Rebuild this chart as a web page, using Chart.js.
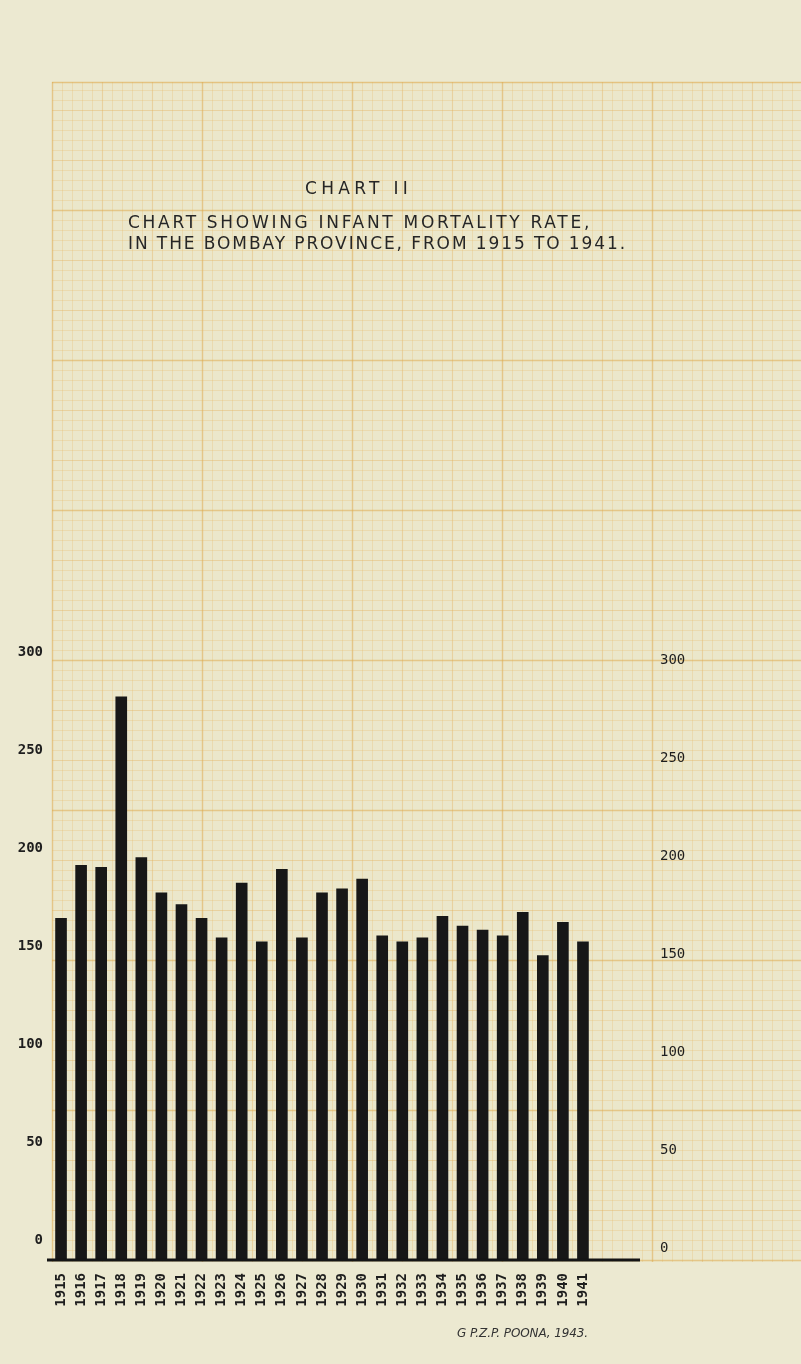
<!DOCTYPE html>
<html>
<head>
<meta charset="utf-8">
<script src="https://cdn.jsdelivr.net/npm/chart.js@4.4.1/dist/chart.umd.min.js"></script>
<style>
  html, body { margin: 0; padding: 0; background: #ece9d1; }
  #wrap { position: relative; width: 801px; height: 1364px; overflow: hidden; }
  #chart { position: absolute; left: 0; top: 0; }
  .txt { position: absolute; white-space: nowrap; color: #262626; line-height: 1;
         font-family: 'DejaVu Sans', sans-serif; font-size: 17px; }
  .credit { font-style: italic; font-size: 12px; color: #333; }
</style>
</head>
<body>
<div id="wrap">
  <canvas id="chart" width="801" height="1364"></canvas>
  <div class="txt" style="left:305px; top:180px;" data-w="107">CHART II</div>
  <div class="txt" style="left:128px; top:214px;" data-w="464">CHART SHOWING INFANT MORTALITY RATE,</div>
  <div class="txt" style="left:128px; top:235px;" data-w="499">IN THE BOMBAY PROVINCE, FROM 1915 TO 1941.</div>
  <div class="txt credit" style="left:457px; top:1327px;" data-w="131">G P.Z.P. POONA, 1943.</div>
</div>
<script>
// --- Data ---
const years = ['1915', '1916', '1917', '1918', '1919', '1920', '1921', '1922', '1923',
               '1924', '1925', '1926', '1927', '1928', '1929', '1930', '1931', '1932',
               '1933', '1934', '1935', '1936', '1937', '1938', '1939', '1940', '1941'];
// infant mortality rate
const mortalityRates = [174, 201, 200, 287, 205, 187, 181, 174, 164,
                        192, 162, 199, 164, 187, 189, 194, 165, 162,
                        164, 175, 170, 168, 165, 177, 155, 172, 162];
const yMin = 0;
const yMax = 300;
const yStep = 50;

// stretch the lettering to the widths of the original
document.querySelectorAll('.txt').forEach(el => {
    const target = +el.dataset.w;
    const natural = el.getBoundingClientRect().width;
    el.style.letterSpacing = ((target - natural) / el.textContent.length) + 'px';
});

// graph paper behind everything
const paperPlugin = {
    id: 'paper',
    beforeDraw(chart) {
        const ctx = chart.ctx;
        const gx0 = 52, gy0 = 82, gx1 = chart.width, gy1 = 1262;
        ctx.save();
        ctx.fillStyle = '#ece9d1';
        ctx.fillRect(0, 0, chart.width, chart.height);
        ctx.fillStyle = '#ebe7cb';
        ctx.fillRect(gx0, gy0, gx1 - gx0, gy1 - gy0);

        const styleFor = k => {
            if (k % 15 === 0) return ['rgba(222,165,70,0.5)', 1.4];
            if (k % 5 === 0) return ['rgba(226,172,80,0.36)', 1.1];
            return ['rgba(230,180,95,0.26)', 1];
        };
        for (let x = gx0; x <= gx1; x += 10) {
            const [c, w] = styleFor(Math.round((x - gx0) / 10));
            ctx.strokeStyle = c; ctx.lineWidth = w;
            ctx.beginPath(); ctx.moveTo(x + 0.5, gy0); ctx.lineTo(x + 0.5, gy1); ctx.stroke();
        }
        for (let y = 90; y <= gy1; y += 10) {
            const [c, w] = styleFor(Math.abs(Math.round((y - 660) / 10)));
            ctx.strokeStyle = c; ctx.lineWidth = w;
            ctx.beginPath(); ctx.moveTo(gx0, y + 0.5); ctx.lineTo(gx1, y + 0.5); ctx.stroke();
        }
        ctx.strokeStyle = 'rgba(222,165,70,0.55)';
        ctx.lineWidth = 1.4;
        ctx.beginPath(); ctx.moveTo(gx0, gy0 + 0.5); ctx.lineTo(gx1, gy0 + 0.5); ctx.stroke();
        ctx.restore();
    }
};

// the inked base line runs a little past the last bar
const baselinePlugin = {
    id: 'baseline',
    afterDraw(chart) {
        const ctx = chart.ctx;
        const y = chart.scales.y.getPixelForValue(0);
        ctx.save();
        ctx.strokeStyle = '#151515';
        ctx.lineWidth = 3;
        ctx.beginPath();
        ctx.moveTo(47, y + 1);
        ctx.lineTo(640, y + 1);
        ctx.stroke();
        ctx.restore();
    }
};

const ctx = document.getElementById('chart').getContext('2d');
new Chart(ctx, {
    type: 'bar',
    data: {
        labels: years,
        datasets: [{
            label: 'Infant mortality rate',
            data: mortalityRates,
            backgroundColor: '#171717',
            borderWidth: 0,
            barPercentage: 0.58,
            categoryPercentage: 1
        }]
    },
    options: {
        responsive: false,
        animation: false,
        layout: { padding: { top: 671, bottom: 45, left: 0, right: 0 } },
        plugins: {
            legend: { display: false },
            tooltip: { enabled: false }
        },
        scales: {
            x: {
                grid: { display: false },
                border: { display: false },
                ticks: {
                    autoSkip: false,
                    minRotation: 90,
                    maxRotation: 90,
                    padding: 6,
                    color: '#1e1e1e',
                    font: { family: 'DejaVu Sans Mono', size: 14, weight: 'bold' }
                },
                afterFit(scale) { scale.height = 60; }
            },
            y: {
                position: 'left',
                min: yMin,
                max: yMax,
                grid: { display: false, drawTicks: false },
                border: { display: false },
                ticks: {
                    stepSize: yStep,
                    padding: 8,
                    labelOffset: -19,
                    color: '#1e1e1e',
                    font: { family: 'DejaVu Sans Mono', size: 14, weight: 'bold' }
                },
                afterFit(scale) { scale.width = 51; }
            },
            y2: {
                position: 'right',
                min: yMin,
                max: yMax,
                grid: { display: false, drawTicks: false },
                border: { display: false },
                ticks: {
                    stepSize: yStep,
                    padding: 67,
                    labelOffset: -11,
                    color: '#1e1e1e',
                    font: { family: 'DejaVu Sans Mono', size: 14 }
                },
                afterFit(scale) { scale.width = 208; }
            }
        }
    },
    plugins: [paperPlugin, baselinePlugin]
});
</script>
</body>
</html>
